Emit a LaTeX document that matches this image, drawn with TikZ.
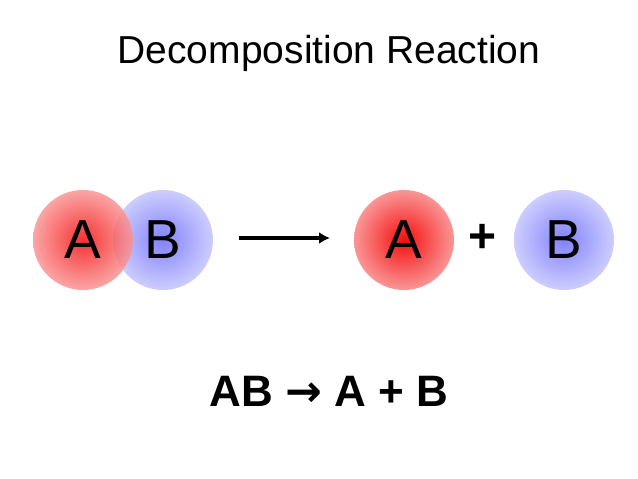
\documentclass[tikz,border=0pt]{standalone}
\usepackage{fontspec}
\setmainfont{Liberation Sans}
\newfontfamily\dejavu{DejaVu Sans}
\usetikzlibrary{arrows.meta}
\begin{document}
\begin{tikzpicture}[x=1pt,y=-1pt,
  redball/.style={circle,minimum size=100pt,inner sep=0pt,shading=radial,inner color={rgb,255:red,245;green,15;blue,15},outer color={rgb,255:red,250;green,150;blue,150},font=\fontsize{55}{55}\selectfont},
  blueball/.style={circle,minimum size=100pt,inner sep=0pt,shading=radial,inner color={rgb,255:red,130;green,130;blue,250},outer color={rgb,255:red,205;green,205;blue,255},font=\fontsize{55}{55}\selectfont}]
\useasboundingbox (0,0) rectangle (638,479);
\node (title) at (329,53) {\fontsize{39}{39}\selectfont Decomposition Reaction};
\node[blueball] (b1) at (163,240) {B};
\node[redball,fill opacity=0.85,text opacity=1] (a1) at (83,240) {A};
\node[redball] (a2) at (404,240) {A};
\node[blueball] (b2) at (564,240) {B};
\node (plus) at (483,238) {\fontsize{48}{48}\selectfont\bfseries +};
\coordinate (s) at (239,238);
\coordinate (e) at (330,238);
\draw[line width=3.5pt,-{Latex[length=11pt,width=12pt]}] (s) -- (e);
\node (eq) at (329,391) {\fontsize{44}{44}\selectfont\bfseries AB {\dejavu\bfseries →} A + B};
\end{tikzpicture}
\end{document}
